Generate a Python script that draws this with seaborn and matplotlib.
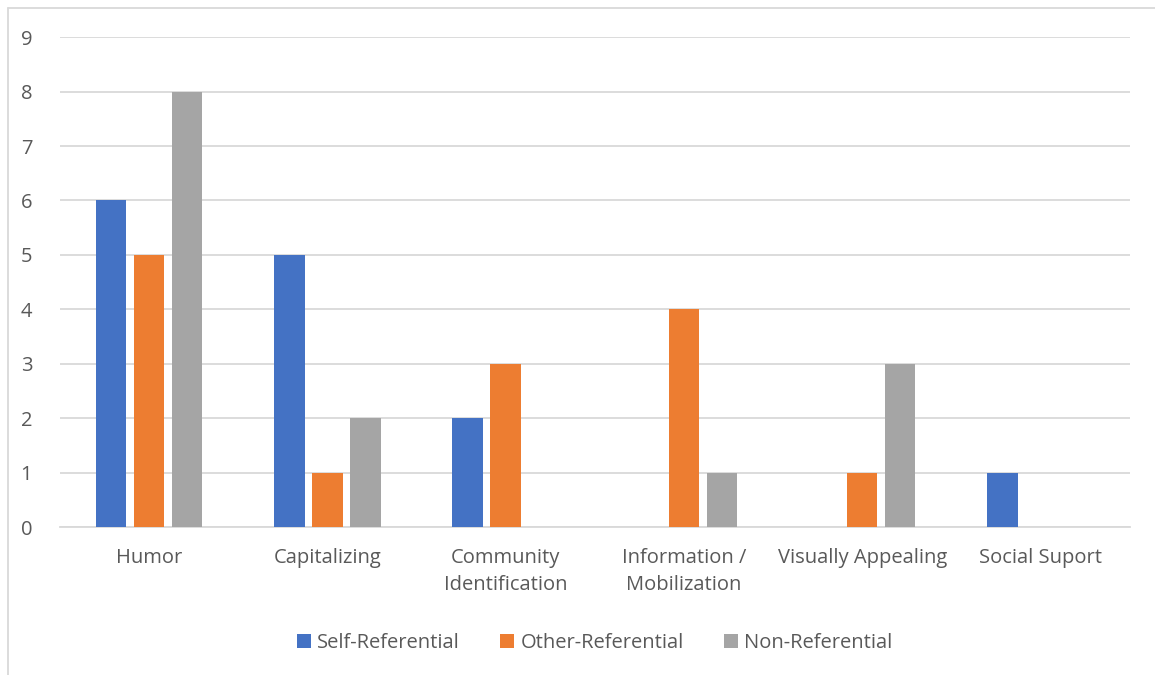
import pandas as pd
import matplotlib.pyplot as plt
import seaborn as sns

# Datos
categories = ["Humor", "Capitalizing", "Community\nIdentification",
              "Information /\nMobilization", "Visually Appealing", "Social Suport"]
series = ["Self-Referential", "Other-Referential", "Non-Referential"]
self_ref = [6, 5, 2, 0, 0, 1]
other_ref = [5, 1, 3, 4, 1, 0]
non_ref = [8, 2, 0, 1, 3, 0]

colors = ["#4472C4", "#ED7D31", "#A5A5A5"]

df = pd.DataFrame({
    "category": categories * 3,
    "series": [series[0]] * 6 + [series[1]] * 6 + [series[2]] * 6,
    "value": self_ref + other_ref + non_ref,
})

sns.set_style("white")
plt.rcParams["font.family"] = ["Open Sans", "DejaVu Sans"]

fig = plt.figure(figsize=(11.55, 6.75), dpi=100)
ax = fig.add_axes([0.052, 0.219, 0.926, 0.726])

sns.barplot(data=df, x="category", y="value", hue="series", palette=colors,
            saturation=1, width=0.64, gap=0.2, linewidth=0, ax=ax, zorder=3,
            legend=True)

ax.set_ylim(0, 9)
ax.set_yticks(range(0, 10))
ax.set_xlim(-0.5, 5.5)
ax.grid(axis="y", color="#D9D9D9", linewidth=1.3, zorder=0)
ax.set_axisbelow(True)
for s in ["top", "right", "left"]:
    ax.spines[s].set_visible(False)
ax.spines["bottom"].set_color("#D9D9D9")
ax.spines["bottom"].set_linewidth(1.3)

ax.set_xlabel("")
ax.set_ylabel("")
ax.tick_params(axis="both", length=0, labelsize=14.5, labelcolor="#595959")
ax.tick_params(axis="x", pad=15)
ax.tick_params(axis="y", pad=20)
for lbl in ax.get_xticklabels():
    lbl.set_linespacing(1.45)

ax.legend(loc="center", bbox_to_anchor=(0.5, -0.236), ncol=3, frameon=False,
          fontsize=14.5, handlelength=0.7, handleheight=0.7, handletextpad=0.3,
          columnspacing=2.0, labelcolor="#595959")

# marco del gráfico
fig.add_artist(plt.Line2D([0.007, 0.007], [0.0, 0.988], color="#D9D9D9", linewidth=1.3))
fig.add_artist(plt.Line2D([0.007, 1.0], [0.988, 0.988], color="#D9D9D9", linewidth=1.3))

fig.savefig("out.png", dpi=100)
